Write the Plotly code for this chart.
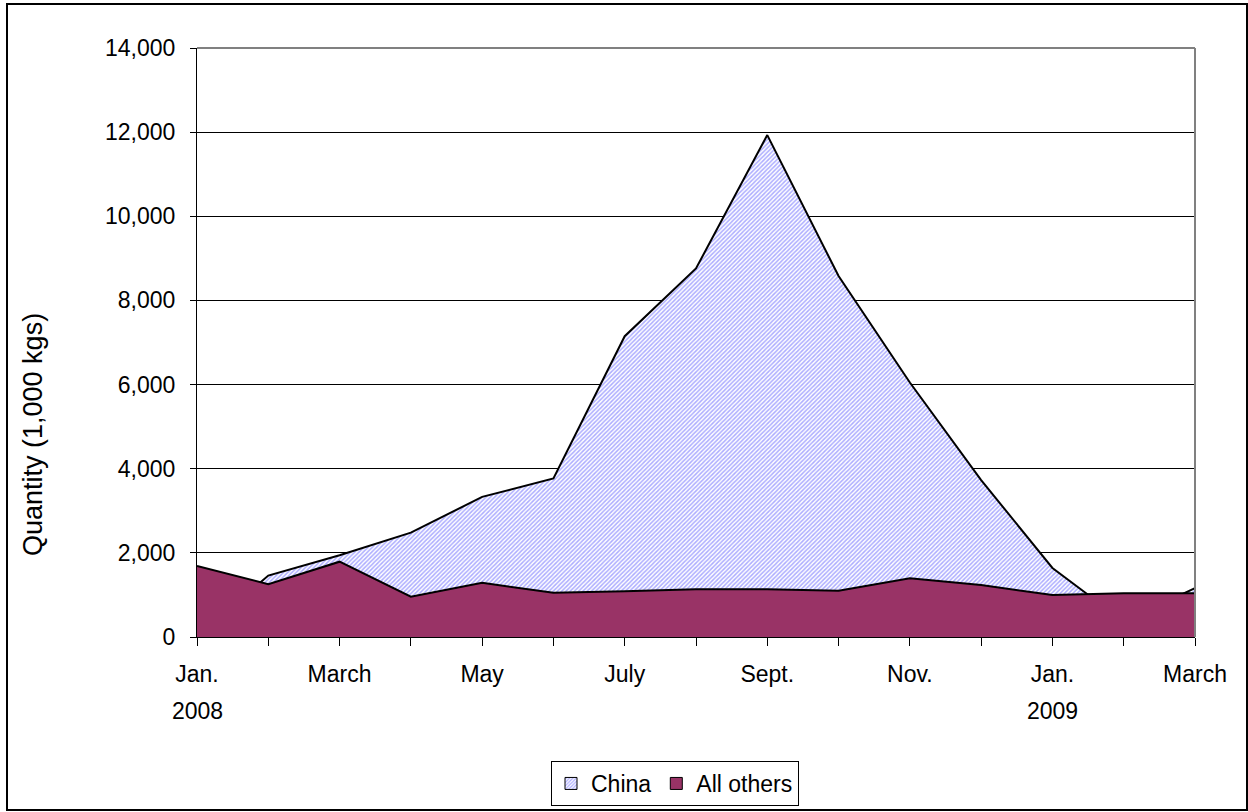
import plotly.graph_objects as go

# Monthly quantities, 1,000 kgs (Jan. 2008 – March 2009)
months = ["Jan. 2008", "Feb. 2008", "March 2008", "April 2008", "May 2008",
          "June 2008", "July 2008", "Aug. 2008", "Sept. 2008", "Oct. 2008",
          "Nov. 2008", "Dec. 2008", "Jan. 2009", "Feb. 2009", "March 2009"]
china = [0, 1460, 1945, 2480, 3330, 3770, 7150, 8760, 11930, 8580,
         6050, 3730, 1640, 370, 1160]
all_others = [1690, 1255, 1790, 958, 1290, 1050, 1090, 1135, 1135, 1100,
              1395, 1236, 998, 1038, 1038]

tick_positions = [0, 2, 4, 6, 8, 10, 12, 14]
tick_labels = ["Jan.", "March", "May", "July", "Sept.", "Nov.", "Jan.", "March"]
year_positions = [0, 12]
year_labels = ["2008", "2009"]

x = list(range(len(months)))
FONT = "Liberation Sans, Arial, sans-serif"
CHINA_PATTERN = dict(shape="/", fgcolor="#5a5aff", bgcolor="white",
                     size=3, solidity=0.5)
OTHERS_COLOR = "#993366"

fig = go.Figure()

# China drawn first so "All others" sits in front of it
fig.add_trace(go.Scatter(
    x=x, y=china, name="China", mode="lines", fill="tozeroy",
    line=dict(color="black", width=2),
    fillcolor="white", fillpattern=CHINA_PATTERN,
    showlegend=False, legendgroup="china",
    customdata=months, hovertemplate="%{customdata}: %{y:,}<extra>China</extra>",
))
fig.add_trace(go.Scatter(
    x=x, y=all_others, name="All others", mode="lines", fill="tozeroy",
    line=dict(color="black", width=2),
    fillcolor=OTHERS_COLOR,
    showlegend=False, legendgroup="others",
    customdata=months, hovertemplate="%{customdata}: %{y:,}<extra>All others</extra>",
))

# square swatches for the legend
fig.add_trace(go.Bar(
    x=[None], y=[None], name="China", legendgroup="china",
    marker=dict(color="white", pattern=CHINA_PATTERN,
                line=dict(color="black", width=1)),
))
fig.add_trace(go.Bar(
    x=[None], y=[None], name="All others", legendgroup="others",
    marker=dict(color=OTHERS_COLOR, line=dict(color="black", width=1)),
))

# plot area spans x 197..1195 px, y 48..637 px
FIG_W, FIG_H = 1248, 812
L, R, T, B = 197, 1195, 48, 637
W, H = R - L, B - T


def px_x(p):
    return (p - L) / W


def px_y(p):
    return (B - p) / H


annotations = [
    dict(text="Quantity (1,000 kgs)", textangle=-90, showarrow=False,
         xref="paper", yref="paper", x=px_x(33), y=px_y(435),
         xanchor="center", yanchor="middle", font=dict(size=27)),
]
for pos, label in zip(year_positions, year_labels):
    annotations.append(dict(
        text=label, showarrow=False, xref="x", yref="paper",
        x=pos, y=px_y(711), xanchor="center", yanchor="middle",
        font=dict(size=23),
    ))

fig.update_layout(
    width=FIG_W, height=FIG_H,
    margin=dict(l=L, r=FIG_W - R, t=T, b=FIG_H - B, autoexpand=False),
    paper_bgcolor="white", plot_bgcolor="white",
    font=dict(family=FONT, size=23, color="black"),
    showlegend=True,
    legend=dict(
        orientation="h",
        xref="container", x=675 / FIG_W, xanchor="center",
        yref="container", y=(FIG_H - 806) / FIG_H, yanchor="bottom",
        bordercolor="black", borderwidth=1,
        font=dict(size=23), itemwidth=30, tracegroupgap=0,
    ),
    xaxis=dict(
        range=[0, 14], tickmode="array", tickvals=tick_positions,
        ticktext=tick_labels, showgrid=False, zeroline=False,
        showline=True, linecolor="black", linewidth=1,
        ticks="outside", ticklen=8, tickcolor="black",
        minor=dict(dtick=1, ticks="outside", ticklen=8, tickcolor="black",
                   showgrid=False),
        tickfont=dict(size=23), ticklabelstandoff=8, automargin=False,
    ),
    yaxis=dict(
        range=[0, 14000], dtick=2000, tickformat=",",
        showgrid=True, gridcolor="black", gridwidth=1, zeroline=False,
        showline=True, linecolor="black", linewidth=1,
        ticks="outside", ticklen=6, tickcolor="black",
        tickfont=dict(size=23), ticklabelstandoff=10, automargin=False,
    ),
    annotations=annotations,
    shapes=[
        # grey top and right edges of the plot area
        dict(type="line", xref="paper", yref="paper", x0=0, x1=1, y0=1, y1=1,
             line=dict(color="#808080", width=2)),
        dict(type="line", xref="paper", yref="paper", x0=1, x1=1, y0=0, y1=1,
             line=dict(color="#808080", width=2)),
        # outer chart frame
        dict(type="rect", xref="paper", yref="paper",
             x0=px_x(7), x1=px_x(1247), y0=px_y(810), y1=px_y(4),
             line=dict(color="black", width=2), layer="above"),
    ],
)

fig.write_html("out.html")
